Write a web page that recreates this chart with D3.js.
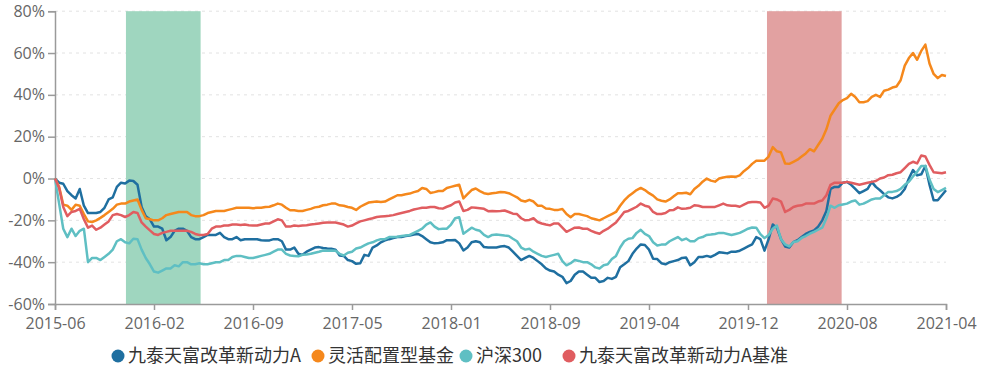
<!DOCTYPE html>
<html><head><meta charset="utf-8">
<script src="https://cdn.jsdelivr.net/npm/d3@7"></script>
<style>
html,body{margin:0;padding:0;background:#fff;}
svg{display:block;}
</style></head>
<body>
<svg id="chart" width="987" height="369"></svg>
<script>
// ---- data ----
const xTickLabels = ["2015-06","2016-02","2016-09","2017-05","2018-01","2018-09","2019-04","2019-12","2020-08","2021-04"];
const pointsPerTick = 24;
const yTicks = [-60,-40,-20,0,20,40,60,80];
const seriesNames = ["九泰天富改革新动力A","灵活配置型基金","沪深300","九泰天富改革新动力A基准"];
const seriesColors = ["#1f6fa0","#f5881c","#5fbfc3","#e05d60"];

const fundA = [
 0,-2,-2.5,-6,-8,-9.5,-5,-13,-16.5,-16.5,-16.5,-16,-14,-10,-9,-4,-2,-2.4,-1,-1.2,-3,-13.6,-18,-19.5,
 -23,-23,-24,-29.5,-28,-25,-24,-24,-25,-28,-29,-29,-28,-27,-27,-27,-26,-28,-29,-29,-28,-29.5,-29,-29,
 -29,-29,-29.5,-29.6,-29.6,-29,-29,-30,-34,-34,-33,-36,-36.5,-35,-34,-33,-32.8,-33.2,-33.5,-33.6,-34,-36.8,-37,-39,
 -39.5,-40.8,-40.5,-36.5,-37,-33,-32,-30.5,-29.6,-29,-28.5,-28,-28,-27.5,-27.2,-26.8,-26.5,-27.5,-29,-30.5,-31,-30.8,-30.5,-29.5,
 -29.5,-29.4,-31,-34.4,-33,-30.5,-30,-30.5,-32.8,-33,-33,-33,-32.5,-32.3,-33,-35,-37,-39,-38,-37,-38,-39.5,-41,-43,
 -44,-44.5,-46,-47,-50,-49,-46,-44.5,-44.5,-46,-47.5,-47.5,-49.5,-49,-47.5,-48,-47,-42.4,-41,-39.5,-36,-33.5,-31.5,-31.8,
 -34,-38.4,-38.5,-40.5,-41,-40,-39.5,-39,-38,-37.8,-41.5,-40,-37.5,-37.5,-37,-37.5,-36.5,-35.3,-35.5,-35.8,-35,-35,-34.5,-33.5,
 -32.5,-31.5,-28,-29,-34.5,-29,-22,-23.5,-29,-32.5,-33,-30.4,-29.5,-28,-26.5,-25.5,-24.8,-23,-20,-15.5,-5,-4,-4,-2,
 -1.6,-3,-5,-7,-6,-5,-1.6,-4,-5.6,-7.5,-9,-9.5,-8.8,-7.5,-5,0,4,1.5,2,6,-3,-10.4,-10.4,-8,
 -5.6];
const flexFund = [
 0,-4,-12.5,-13,-15,-12.5,-13,-17,-20.5,-20.8,-20,-18.8,-17.5,-16,-14.5,-12.5,-12,-12,-11,-10.5,-10,-15,-19,-19.5,
 -20,-20,-19,-17.5,-17,-16.5,-16,-16,-16,-17.5,-18,-18,-17.5,-16.5,-16,-15.5,-15.5,-15.5,-15,-14.5,-14,-14,-14,-14,
 -14.2,-14,-14,-13.6,-13.5,-12.8,-12,-12.5,-14,-15.2,-15.2,-15.5,-15.5,-15,-14.5,-13.8,-13.5,-12.8,-12.5,-12,-12,-12.8,-13,-13.6,
 -14,-15,-13.5,-12.5,-11.5,-11.2,-11,-11.2,-11,-10,-9,-8,-8,-7.5,-7.2,-6.5,-6,-4.5,-5,-6.9,-6.5,-6,-6,-4.5,
 -4,-3.5,-3,-9.5,-7.5,-5.5,-4.8,-6,-7,-7.4,-7,-6.8,-6.5,-6.6,-7,-8,-9,-10.5,-11,-10.2,-11,-13,-13,-14.3,
 -14.5,-15,-15,-14.6,-17,-18.5,-17,-17,-17.5,-18,-19,-19.5,-20,-19,-18,-17,-16,-13,-10.5,-8.5,-7,-5.5,-4.5,-5.5,
 -7,-8.2,-10,-10.6,-11,-10,-8.5,-7,-7,-6.8,-7.5,-5,-3.5,-1.5,0,-1,-1.5,0,0.5,0.8,1,0.8,1.5,3.5,
 5,7,8.5,8.5,8.5,10.5,15,13,12.5,7.2,7,8,9,10.5,12,14,13,16,19,23.5,30,33,36,37.5,
 38.4,40.5,39,36.5,36.5,37,39,40,39,42,42.5,43.5,44,47,54,57.6,60,56.8,61,64,55,50,48,49.5,
 49];
const hs300 = [
 0,-12,-24,-28,-24,-27.5,-25,-24,-40,-38,-38,-39,-37.5,-36,-34,-30,-29,-30.5,-31,-28.8,-29,-34,-38,-41,
 -44.5,-45,-44,-43,-43,-41.5,-42,-40,-40,-41,-41,-40.5,-41,-41,-40.5,-40,-40,-39,-39,-37.5,-37,-37,-37.5,-38,
 -38,-37.5,-37,-36.5,-36,-35,-34,-34,-36,-36.8,-37,-37.2,-36.5,-36.3,-36,-35.5,-35,-34.4,-34.5,-34.4,-34.5,-36,-36.8,-35.5,
 -35,-33.5,-33,-32,-31,-30.5,-29.6,-29,-29,-28,-28,-27.8,-27.5,-27.2,-27,-26,-25,-24,-22,-21,-23,-24.2,-24,-24,
 -22,-19,-18.5,-26.4,-25,-23.5,-24.5,-25,-27,-28,-27,-26.8,-27,-27.3,-27.5,-28.8,-30,-33,-34,-33.6,-35,-36,-37,-37.5,
 -37,-36.5,-36,-39.5,-41.5,-40.5,-39,-39.4,-40,-40,-41,-42.5,-43,-41.5,-41,-38.5,-37,-33,-30,-28.8,-28.5,-26,-24.5,-26.5,
 -27.5,-30.5,-32,-31.6,-31.5,-30,-29,-28,-29.5,-28.7,-30,-30,-28.5,-28,-27,-26.8,-26.5,-26,-26,-26.5,-27,-26.5,-26,-25,
 -24,-23.4,-23.5,-26.6,-28.5,-27,-24,-22.5,-29,-31.5,-32.5,-30.4,-30,-28.4,-27.5,-26.4,-25.5,-24.5,-23.5,-19,-13,-14,-12.8,-12.4,
 -12,-11,-10.5,-12.5,-12,-11,-10,-9.5,-9.6,-8,-6.4,-6.4,-6,-5,-3,-1.5,1,3.2,6,6,-0.5,-5,-6.5,-5.5,
 -4.5];
const benchmark = [
 0,-4.5,-13.6,-18,-16,-15.5,-14.5,-19.5,-23.5,-22.5,-24.5,-23.5,-22,-20.5,-17.5,-17,-17.5,-18.4,-17.5,-16,-16.5,-21,-23,-24.8,
 -26.5,-27,-26,-25.5,-25,-25,-25,-25,-25,-25.5,-26.5,-27,-27,-26.5,-24,-23,-23,-22.5,-22.5,-22,-22,-22.2,-22,-22.3,
 -22.5,-22.5,-22,-21.5,-21.5,-20.5,-19.5,-20,-23,-23,-22.5,-22.7,-22.5,-22.3,-22,-21.8,-21.5,-21.2,-21,-21,-21,-21.5,-22,-23,
 -22.5,-21.5,-20.5,-20,-19.5,-19,-18.4,-18.2,-18,-17.8,-17.5,-17,-16.5,-16,-15.5,-14.8,-14.4,-14,-14,-13.6,-13.6,-14.2,-14.4,-13.5,
 -12.8,-11.5,-11,-15.5,-15,-13.8,-14,-14.2,-14.5,-15.6,-15.5,-15.6,-15.5,-15.3,-16,-16.8,-17,-19,-20,-19.8,-19,-20.8,-21.5,-22,
 -22.4,-21.5,-21.5,-23.5,-25.5,-24.5,-23.5,-23.4,-24,-24,-25,-25.8,-26.4,-25,-24,-22.5,-21,-18.5,-16,-15.5,-14.5,-13.5,-12,-13,
 -13.5,-16,-17,-17,-16.5,-15.2,-15,-13.8,-14.5,-14.3,-14,-12.8,-13,-13.6,-13.6,-13.6,-13.6,-12.8,-12,-12.8,-13,-13,-13.5,-12.5,
 -11.5,-11.2,-11.2,-11.5,-14,-13,-9.6,-10,-11,-16,-15,-13.6,-13,-12.8,-12,-12,-12,-11,-10.5,-8,-3,-2,-2,-2,
 -1.6,-2,-2.5,-3,-2.5,-2,-1.6,-1.2,0,0.5,1.6,1.8,2.5,3,5,7,8,7.2,11,10.5,6.5,3,2.8,2.5,
 3];
// shaded periods, in category positions along the axis
const markStart = [17.2, 172.6];
const markEnd = [35.3, 190.7];
const markColors = ["#9fd6bf","#e2a1a1"];

// ---- chart ----
const allSeries = [fundA, flexFund, hs300, benchmark];
const nPts = (xTickLabels.length - 1) * pointsPerTick + 1;
const svg = d3.select("#chart");
const M = {left:55, right:946, top:11.2, bottom:304};
const x = d3.scaleLinear().domain([0, nPts-1]).range([M.left, M.right]);
const y = d3.scaleLinear().domain([-60, 80]).range([M.bottom, M.top]);
const font = "'Open Sans','Noto Sans',sans-serif";

// grid
svg.append("g").selectAll("line").data(yTicks.filter(d=>d>-60)).join("line")
  .attr("x1", M.left).attr("x2", M.right)
  .attr("y1", d=>y(d)).attr("y2", d=>y(d))
  .attr("stroke", "#e3e3e3").attr("stroke-width", 1).attr("stroke-dasharray", "3,4");

// mark areas
svg.append("g").selectAll("rect").data(markStart).join("rect")
  .attr("x", (d)=>x(d)).attr("width", (d,i)=>x(markEnd[i]) - x(d))
  .attr("y", y(80)).attr("height", y(-60) - y(80))
  .attr("fill", (d,i)=>markColors[i]);

// axes
const xAxis = d3.axisBottom(x)
  .tickValues(xTickLabels.map((d,i)=>i*pointsPerTick))
  .tickFormat((d,i)=>xTickLabels[i]).tickSize(6).tickPadding(4);
const gx = svg.append("g").attr("transform", `translate(0,${M.bottom})`).call(xAxis);
const yAxis = d3.axisLeft(y).tickValues(yTicks).tickFormat(d=>d+"%").tickSize(7).tickPadding(3);
const gy = svg.append("g").attr("transform", `translate(${M.left},0)`).call(yAxis);
[gx, gy].forEach(g=>{
  g.select(".domain").attr("stroke", "#9a9a9a").attr("stroke-width", 1.5);
  g.selectAll(".tick line").attr("stroke", "#9a9a9a").attr("stroke-width", 1.5);
  g.selectAll("text").attr("fill", "#666").style("font-family", font).style("font-size", "16px");
});
gx.selectAll("text").attr("dy", "0.95em");

// lines
const line = d3.line().x((d,i)=>x(i)).y(d=>y(d)).curve(d3.curveLinear);
svg.append("g").selectAll("path").data(allSeries).join("path")
  .attr("d", d=>line(d))
  .attr("fill", "none")
  .attr("stroke", (d,i)=>seriesColors[i])
  .attr("stroke-width", 2.5)
  .attr("stroke-linejoin", "round");

// legend
const legendX = [118, 318, 466, 569];
const lg = svg.append("g").selectAll("g").data(seriesNames).join("g")
  .attr("transform", (d,i)=>`translate(${legendX[i]},356)`);
lg.append("circle").attr("r", 6.5).attr("fill", (d,i)=>seriesColors[i]);
lg.append("text").attr("x", 10).attr("dy", "0.36em").text(d=>d)
  .attr("fill", "#333").style("font-family", "'Noto Sans CJK SC',sans-serif").style("font-size", "18px");

// length check
allSeries.forEach((s,i)=>{ if (s.length !== nPts) svg.append("text").attr("x",300).attr("y",30+i*16).text("len "+i+" = "+s.length); });
</script>
</body></html>
